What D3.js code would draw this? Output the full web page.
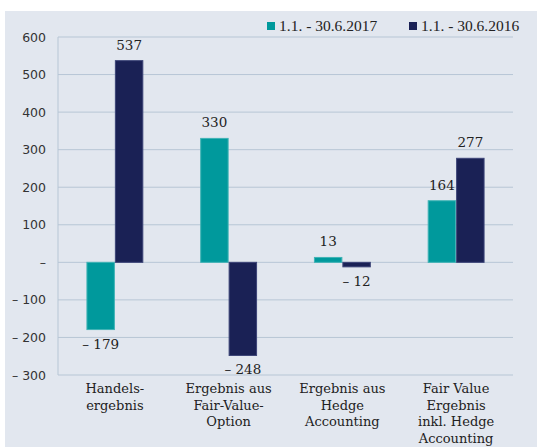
<!DOCTYPE html>
<html>
<head>
<meta charset="utf-8">
<script src="https://cdn.jsdelivr.net/npm/d3@7"></script>
<style>
  body { margin: 0; background: #fff; }
  svg { display: block; }
</style>
</head>
<body>
<svg id="chart" width="537" height="447"></svg>
<script>
const categories = [
    ["Handels-", "ergebnis"],
    ["Ergebnis aus", "Fair-Value-", "Option"],
    ["Ergebnis aus", "Hedge", "Accounting"],
    ["Fair Value", "Ergebnis", "inkl. Hedge", "Accounting"]
]
const seriesNames = ["1.1. - 30.6.2017", "1.1. - 30.6.2016"]
const values2017 = [-179, 330, 13, 164]
const values2016 = [537, -248, -12, 277]
const yTicks = [600, 500, 400, 300, 200, 100, 0, -100, -200, -300]

const colors = ["#00999c", "#1a2155"]
const strokes = ["#3fb3b5", "#3c4477"]

let svg = d3.select("#chart"),
    width = +svg.attr("width"),
    height = +svg.attr("height");

// panel background
svg.append("rect")
    .attr("x", 5).attr("y", 11)
    .attr("width", width - 5).attr("height", height - 11)
    .attr("fill", "#e2e7ef")

const plotLeft = 58, plotRight = 513, plotTop = 37, plotBottom = 375

let x = d3.scaleBand()
    .domain(d3.range(categories.length))
    .range([plotLeft, plotRight])
let y = d3.scaleLinear()
    .domain([-300, 600])
    .range([plotBottom, plotTop])
let xs = d3.scaleBand()
    .domain([0, 1])
    .range([x.bandwidth() / 4, x.bandwidth() * 3 / 4])

const fmt = d => d === 0 ? "–" : d < 0 ? "– " + (-d) : String(d)

// gridlines
svg.append("g")
    .selectAll("line")
    .data(yTicks).enter()
    .append("line")
    .attr("x1", plotLeft).attr("x2", plotRight)
    .attr("y1", d => y(d)).attr("y2", d => y(d))
    .attr("stroke", "#b7c6d5")
    .attr("stroke-width", 1)

svg.append("line")
    .attr("x1", plotLeft).attr("x2", plotLeft)
    .attr("y1", y(600)).attr("y2", y(-300))
    .attr("stroke", "#b7c6d5")

// y axis labels
let yAxis = svg.append("g")
    .attr("transform", `translate(${plotLeft - 12},0)`)
    .call(d3.axisLeft(y).tickValues(yTicks).tickSize(0).tickPadding(0).tickFormat(fmt))
yAxis.select(".domain").remove()
yAxis.selectAll("text")
    .attr("font-family", "DejaVu Sans")
    .attr("font-size", 12.5)
    .attr("fill", "#333")

const series = [values2017, values2016]
series.forEach((vals, s) => {
    let g = svg.append("g")
    g.selectAll("rect")
        .data(vals).enter()
        .append("rect")
        .attr("x", (d, i) => x(i) + xs(s) + 0.5)
        .attr("y", d => y(Math.max(0, d)))
        .attr("width", xs.bandwidth() - 1)
        .attr("height", d => Math.abs(y(d) - y(0)))
        .attr("fill", colors[s])
        .attr("stroke", strokes[s])
        .attr("stroke-width", 1)

    g.selectAll("text")
        .data(vals).enter()
        .append("text")
        .attr("x", (d, i) => x(i) + xs(s) + xs.bandwidth() / 2)
        .attr("y", d => d >= 0 ? y(d) - 11 : y(d) + 19)
        .attr("text-anchor", "middle")
        .attr("font-family", "DejaVu Serif")
        .attr("font-size", 13.5)
        .attr("fill", "#222")
        .text(fmt)
})

// category labels
let cat = svg.append("g")
    .selectAll("text")
    .data(categories).enter()
    .append("text")
    .attr("x", (d, i) => x(i) + x.bandwidth() / 2)
    .attr("y", 393)
    .attr("text-anchor", "middle")
    .attr("font-family", "DejaVu Serif")
    .attr("font-size", 13)
    .attr("fill", "#222")
cat.selectAll("tspan")
    .data(d => d).enter()
    .append("tspan")
    .attr("x", function () { return d3.select(this.parentNode).attr("x") })
    .attr("dy", (d, i) => i === 0 ? 0 : 16.7)
    .text(d => d)

// legend
const legendX = [267, 409]
let legend = svg.append("g")
    .selectAll("g")
    .data(seriesNames).enter()
    .append("g")
    .attr("transform", (d, i) => `translate(${legendX[i]},22)`)
legend.append("rect")
    .attr("width", 8).attr("height", 8)
    .attr("fill", (d, i) => colors[i])
legend.append("text")
    .attr("x", 12).attr("y", 9)
    .attr("font-family", "Liberation Serif")
    .attr("font-size", 15.5)
    .attr("fill", "#222")
    .text(d => d)
</script>
</body>
</html>
